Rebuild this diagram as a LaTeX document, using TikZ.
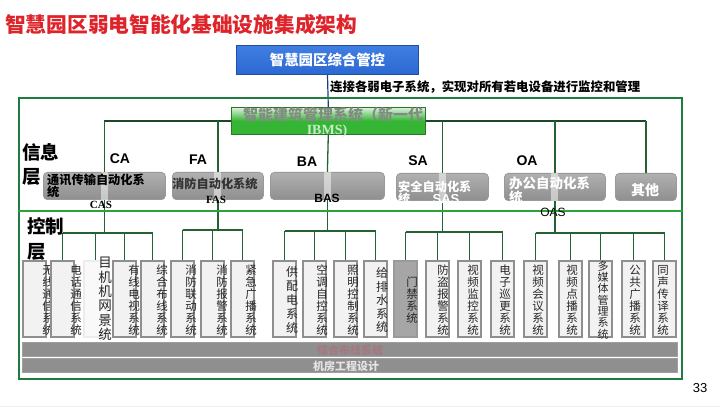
\documentclass[tikz,border=0pt]{standalone}
\usepackage{fontspec}
\setmainfont{Liberation Sans}
\newfontfamily\cjk{Noto Sans CJK SC}
\newfontfamily\serifrm{Liberation Serif}
\pgfdeclarelayer{bglines}
\pgfsetlayers{bglines,main}
\definecolor{titlered}{RGB}{222,36,42}
\definecolor{bluebox}{RGB}{44,104,210}
\definecolor{bluetop}{RGB}{64,126,226}
\definecolor{blueedge}{RGB}{32,78,160}
\definecolor{framegreen}{RGB}{30,125,62}
\definecolor{sepgreen}{RGB}{44,162,58}
\definecolor{linegreen}{RGB}{36,98,52}
\definecolor{busdark}{RGB}{30,70,40}
\definecolor{ibmsgreen}{RGB}{52,182,52}
\definecolor{ibmstop}{RGB}{225,240,225}
\definecolor{ibmsedge}{RGB}{40,120,40}
\definecolor{ibmstext}{RGB}{128,140,128}
\definecolor{ibmslight}{RGB}{205,232,205}
\definecolor{bartext}{RGB}{165,120,128}
\newcommand\ctlbox[5][]{%
  \node[vbox] (#2) at (#3,260) {};
  \node[vtext,#1] (#2t) at (#4,300) {#5};}
\begin{document}
\begin{tikzpicture}[x=1pt,y=-1pt,
  conn/.style={draw=linegreen, line width=1.3pt},
  busline/.style={draw=busdark, line width=1.2pt},
  infobox/.style={rounded corners=4pt, draw=gray!80, line width=0.8pt, top color=gray!62, bottom color=gray!88, anchor=north west, inner sep=0pt, minimum height=27.2pt},
  vbox/.style={draw=gray!88, line width=2.4pt, fill=gray!10, minimum width=22.6pt, minimum height=75.6pt, anchor=north west, inner sep=0pt},
  vtext/.style={font=\cjk\fontsize{11.5}{12}\selectfont, align=center, inner sep=0pt, text=black!85},
  lab/.style={font=\bfseries\fontsize{14}{14}\selectfont, inner sep=0pt},
  bar/.style={draw=gray!75, fill=gray!88, line width=0.6pt, anchor=north west, inner sep=0pt, minimum width=655pt, minimum height=14.5pt},
  boxtext/.style={inner sep=0pt, align=left, font=\cjk\bfseries\fontsize{12.2}{12.5}\selectfont}]
\useasboundingbox (0,0) rectangle (720,411);
\begin{pgfonlayer}{bglines}
\fill[white] (0,0) rectangle (720,411);
\end{pgfonlayer}
\draw[gray!12, line width=0.8pt] (0,406) -- (720,406);

% title
\node[anchor=west, inner sep=0pt, text=titlered, font=\cjk\bfseries\fontsize{20.7}{21}\selectfont] (title) at (5,25) {智慧园区弱电智能化基础设施集成架构};

% top box
\node[anchor=north west, minimum width=182pt, minimum height=29pt, inner sep=0pt, draw=blueedge, line width=1pt, top color=bluetop, bottom color=bluebox, text=white, font=\cjk\bfseries\fontsize{14.4}{14.4}\selectfont] (top) at (236,45) {智慧园区综合管控};
\node[anchor=west, inner sep=0pt, font=\cjk\bfseries\fontsize{12.4}{12.4}\selectfont] (note) at (330,87) {连接各弱电子系统，实现对所有若电设备进行监控和管理};

% frame
\node[anchor=north west, minimum width=663.4pt, minimum height=281.4pt, draw=framegreen, line width=1.6pt, inner sep=0pt] (frame) at (18,97) {};

% IBMS
\node[anchor=north west, minimum width=194pt, minimum height=27pt, inner sep=0pt, draw=ibmsedge, line width=0.6pt, top color=ibmstop, bottom color=ibmsgreen, middle color=ibmsgreen] (ibms) at (231,107) {};
\node[anchor=west, inner sep=0pt, text=ibmstext, font=\cjk\bfseries\fontsize{15}{15}\selectfont] (ibmst1) at (243,115) {智能建筑管理系统（新一代};
\node[inner sep=0pt, text=ibmslight, font=\serifrm\bfseries\fontsize{14}{14}\selectfont] (ibmst2) at (327,131) {IBMS)};

% layer labels
\node[anchor=north west, inner sep=0pt, align=left, font=\cjk\bfseries\fontsize{18.5}{24}\selectfont] (info) at (22,143) {信息\\层};
\node[anchor=north west, inner sep=0pt, align=left, font=\cjk\bfseries\fontsize{18.5}{25}\selectfont] (ctrl) at (27,217) {控制\\层};

% info boxes
\node[infobox, minimum width=122pt] (ca) at (43,172) {};
\node[infobox, minimum width=91pt] (fa) at (172,172) {};
\node[infobox, minimum width=114pt] (ba) at (270,172) {};
\node[infobox, minimum width=92pt] (sa) at (396,173) {};
\node[infobox, minimum width=101pt] (oa) at (504,173) {};
\node[infobox, minimum width=61pt] (oth) at (615,173) {};
\foreach \n in {ca,fa,ba,sa,oa} \fill[white, opacity=0.5] ([xshift=-3.5pt]\n.north) rectangle ([xshift=3.5pt]\n.south);

\node[boxtext, anchor=north west, text=black] (cat) at (47,173.5) {通讯传输自动化系\\统};
\node[boxtext, anchor=west, text=black!80] (fat) at (172,184) {消防自动化系统};
\node[boxtext, anchor=north west, text=white] (sat) at (398,180.5) {安全自动化系\\统};
\node[boxtext, anchor=north west, text=white, font=\cjk\bfseries\fontsize{13.5}{14}\selectfont] (oat) at (509,176.5) {办公自动化系\\统};
\node[inner sep=0pt, text=white, font=\cjk\bfseries\fontsize{14}{14}\selectfont] (otht) at (645,190) {其他};

% control boxes
\ctlbox{k1}{22}{48}{无\\线\\通\\信\\系\\统}
\ctlbox{k2}{50}{76}{电\\话\\通\\信\\系\\统}
\node[vbox, draw=gray!15, fill=gray!5] (k3) at (83,260) {};
\node[vtext, font=\cjk\fontsize{13.5}{14.4}\selectfont] (k3t) at (105,299) {目\\机\\机\\网\\景\\统};
\ctlbox{k4}{112}{134}{有\\线\\电\\视\\系\\统}
\ctlbox{k5}{140}{162}{综\\合\\布\\线\\系\\统}
\ctlbox{k6}{170}{191}{消\\防\\联\\动\\系\\统}
\ctlbox{k7}{200}{222}{消\\防\\报\\警\\系\\统}
\ctlbox{k8}{230}{251}{紧\\急\\广\\播\\系\\统}
\ctlbox[font=\cjk\fontsize{12}{14.2}\selectfont]{k9}{272}{292}{供\\配\\电\\系\\统}
\ctlbox{k10}{302}{322}{空\\调\\自\\控\\系\\统}
\ctlbox{k11}{333}{353}{照\\明\\控\\制\\系\\统}
\ctlbox[font=\cjk\fontsize{12}{13.5}\selectfont]{k12}{363}{382}{给\\排\\水\\系\\统}
\node[vbox, draw=gray!80, fill=gray!70] (k13) at (393,260) {};
\node[vtext] (k13t) at (412,300) {门\\禁\\系\\统};
\ctlbox{k14}{425}{443}{防\\盗\\报\\警\\系\\统}
\ctlbox{k15}{457}{473}{视\\频\\监\\控\\系\\统}
\ctlbox{k16}{490}{505}{电\\子\\巡\\更\\系\\统}
\ctlbox{k17}{523}{538}{视\\频\\会\\议\\系\\统}
\ctlbox{k18}{558}{572}{视\\频\\点\\播\\系\\统}
\ctlbox[font=\cjk\fontsize{11}{11.3}\selectfont]{k19}{588}{603}{多\\媒\\体\\管\\理\\系\\统}
\ctlbox{k20}{621}{635}{公\\共\\广\\播\\系\\统}
\ctlbox{k21}{652}{663}{同\\声\\传\\译\\系\\统}

% bars
\node[bar] (bar1) at (22,342) {};
\node[bar] (bar2) at (22,358) {};
\node[inner sep=0pt, text=bartext, font=\cjk\bfseries\fontsize{11}{11}\selectfont] (bar1t) at (350,350) {综合布线系统};
\node[inner sep=0pt, text=gray!20, font=\cjk\bfseries\fontsize{11}{11}\selectfont] (bar2t) at (346,366) {机房工程设计};

% connectors
\coordinate (bus) at (0,121);
\coordinate (sep) at (0,211);
\coordinate (yCA) at (0,233);
\coordinate (yFA) at (0,230);
\coordinate (yBA) at (0,231);
\coordinate (ySA) at (0,232);
\coordinate (yOA) at (0,233);
\begin{pgfonlayer}{bglines}
\draw[busline] (ca.north |- bus) -- (oth.north |- bus);
\foreach \n in {ca,fa,sa,oa,oth} \draw[conn] (\n.north |- bus) -- (\n.north);
\draw[draw=blueedge!80!black, line width=1.2pt] (top.south) -- (ibms.north);
\draw[conn] (ibms.south) -- (ba.north);
\draw[conn] (ca.south) -- (ca.south |- yCA);
\draw[conn] (k2.north |- yCA) -- (k5.north |- yCA);
\foreach \n in {k2,k3,k4,k5} \draw[conn] (\n.north |- yCA) -- (\n.north);
\draw[conn] (fa.south) -- (fa.south |- yFA);
\draw[conn] (k6.north |- yFA) -- (k8.north |- yFA);
\foreach \n in {k6,k7,k8} \draw[conn] (\n.north |- yFA) -- (\n.north);
\draw[conn] (ba.south) -- (ba.south |- yBA);
\draw[conn] (k9.north |- yBA) -- (k12.north |- yBA);
\foreach \n in {k9,k10,k11,k12} \draw[conn] (\n.north |- yBA) -- (\n.north);
\draw[conn] (sa.south) -- (sa.south |- ySA);
\draw[conn] (k13.north |- ySA) -- (k16.north |- ySA);
\foreach \n in {k13,k14,k15,k16} \draw[conn] (\n.north |- ySA) -- (\n.north);
\draw[conn] (oa.south) -- (oa.south |- yOA);
\draw[conn] (k17.north |- yOA) -- (k21.north |- yOA);
\foreach \n in {k17,k18,k19,k20,k21} \draw[conn] (\n.north |- yOA) -- (\n.north);
\end{pgfonlayer}

% separator
\draw[draw=sepgreen, line width=2.4pt] (frame.west |- sep) -- (frame.east |- sep);

% domain labels
\node[lab] (lca) at (120,159) {CA};
\node[lab] (lfa) at (198,160) {FA};
\node[lab] (lba) at (307,162) {BA};
\node[lab] (lsa) at (418,161) {SA};
\node[lab] (loa) at (527,161) {OA};
\node[inner sep=0pt, font=\serifrm\bfseries\fontsize{11}{11}\selectfont] (cas) at (101,205) {CAS};
\node[inner sep=0pt, font=\serifrm\bfseries\fontsize{11}{11}\selectfont] (fas) at (216,200) {FAS};
\node[inner sep=0pt, font=\bfseries\fontsize{12}{12}\selectfont] (bas) at (327,198) {BAS};
\node[inner sep=0pt, text=white, font=\bfseries\fontsize{13}{13}\selectfont] (sas) at (446,199) {SAS};
\node[inner sep=0pt, font=\fontsize{12}{12}\selectfont] (oas) at (553,212) {OAS};

% page number
\node[inner sep=0pt, font=\fontsize{13}{13}\selectfont] (pg) at (700,388) {33};
\end{tikzpicture}
\end{document}
